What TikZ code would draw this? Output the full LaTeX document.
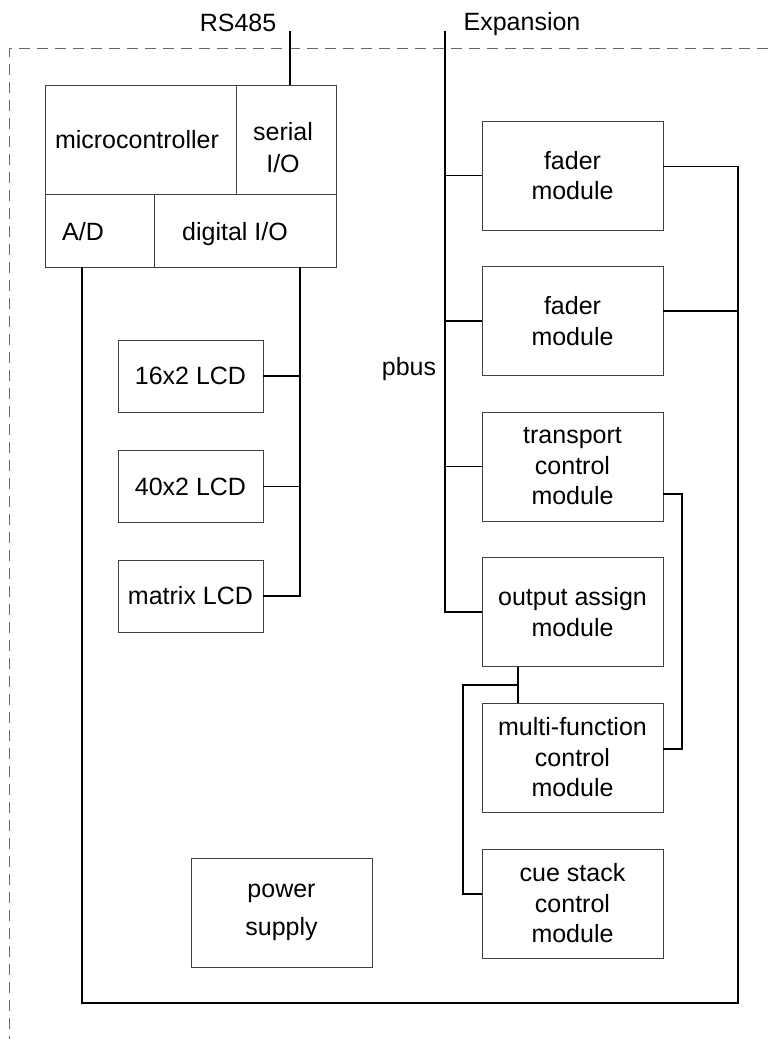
\documentclass[tikz,border=0pt]{standalone}
\usepackage{fontspec}
\setmainfont{Liberation Sans}
\usetikzlibrary{calc}
\tikzset{
  box/.style={draw=black!75, line width=0.8pt, inner sep=0pt, align=center, font=\fontsize{25}{30.5}\selectfont},
  modbox/.style={box, minimum width=181pt, minimum height=109pt},
  lcdbox/.style={box, minimum width=145pt, minimum height=72pt},
  cell/.style={draw=black!75, line width=0.8pt, inner sep=0pt},
  conn/.style={draw=black, line width=1.9pt},
  dashline/.style={draw=black!60, line width=0.9pt, dash pattern=on 11pt off 7pt},
  lbl/.style={font=\fontsize{25}{32}\selectfont, inner sep=0pt},
}
\begin{document}
\begin{tikzpicture}[x=1pt,y=-1pt]
\useasboundingbox (0,0) rectangle (768,1039);

% enclosure (dashed)
\coordinate (dtl) at (9.5,48);
\coordinate (dtr) at (768,48);
\coordinate (dbl) at (9.5,1039);
\draw[dashline] (dtr) -- (dtl) -- (dbl);

% microcontroller block
\node[cell, minimum width=191pt, minimum height=109pt] (micro) at (140.5,139.5) {};
\node[cell, minimum width=100pt, minimum height=109pt] (serial) at (286,139.5) {};
\node[cell, minimum width=109pt, minimum height=73pt] (ad) at (99.5,230.5) {};
\node[cell, minimum width=182pt, minimum height=73pt] (dio) at (245,230.5) {};
\node[lbl, anchor=base] (tmicro) at (137,148) {microcontroller};
\node[lbl, align=center] (tserial) at (283,148) {serial\\I/O};
\node[lbl, anchor=base] (tad) at (83,240) {A/D};
\node[lbl, anchor=base] (tdio) at (235,240) {digital I/O};

% LCDs
\node[lcdbox] (lcd1) at (190.5,376) {16x2 LCD};
\node[lcdbox] (lcd2) at (190.5,486.5) {40x2 LCD};
\node[lcdbox] (lcd3) at (190.5,596) {matrix LCD};

% modules
\node[modbox] (fader1) at (572.5,175.5) {fader\\module};
\node[modbox] (fader2) at (572.5,321) {fader\\module};
\node[modbox] (transport) at (572.5,466.5) {transport\\control\\module};
\node[modbox] (out) at (572.5,612) {output assign\\module};
\node[modbox] (multi) at (572.5,757.5) {multi-function\\control\\module};
\node[modbox] (cue) at (572.5,903.5) {cue stack\\control\\module};
\node[modbox, font=\fontsize{25}{38}\selectfont] (power) at (281.5,912.5) {power\\supply};

% external labels
\node[lbl, anchor=base] (rs) at (238,31) {RS485};
\node[lbl, anchor=base] (expn) at (522,30.5) {Expansion};
\node[lbl, anchor=base] (pbus) at (409,375) {pbus};

% helper coordinates
\coordinate (rstop) at (290,31);
\coordinate (exptop) at (445,31);
\coordinate (lx) at (82,0);
\coordinate (dx) at (300,0);
\coordinate (bl) at (82,1003);
\coordinate (br) at (738,1003);
\coordinate (tx) at (682,0);
\coordinate (ox) at (518,0);
\coordinate (cx) at (463,0);
\coordinate (f1r) at ($(fader1.east)+(0,-9)$);
\coordinate (f2r) at ($(fader2.east)+(0,-10)$);
\coordinate (tr) at ($(transport.east)+(0,27.5)$);
\coordinate (mr) at ($(multi.east)+(0,-8.5)$);
\coordinate (oj) at (518,685);
\coordinate (cl) at ($(cue.west)+(0,-9.5)$);

% RS485 link
\draw[conn] (rstop) -- (rstop |- serial.north);

% expansion bus / pbus
\draw[conn] (exptop) -- (exptop |- out.west) -- (out.west);
\draw[conn] (fader1.west -| exptop) -- (fader1.west);
\draw[conn] (fader2.west -| exptop) -- (fader2.west);
\draw[conn] (transport.west -| exptop) -- (transport.west);

% A/D return loop
\draw[conn] (ad.south -| lx) -- (bl) -- (br) -- (br |- f1r) -- (f1r);
\draw[conn] (f2r) -- (f2r -| br);

% transport - multi-function
\draw[conn] (tr) -- (tr -| tx) -- (mr -| tx) -- (mr);

% output assign - multi-function - cue stack
\draw[conn] (out.south -| ox) -- (multi.north -| ox);
\draw[conn] (oj) -- (oj -| cx) -- (cl -| cx) -- (cl);

% digital I/O to LCDs
\draw[conn] (dio.south -| dx) -- (lcd3.east -| dx) -- (lcd3.east);
\draw[conn] (lcd1.east) -- (lcd1.east -| dx);
\draw[conn] (lcd2.east) -- (lcd2.east -| dx);
\end{tikzpicture}
\end{document}
